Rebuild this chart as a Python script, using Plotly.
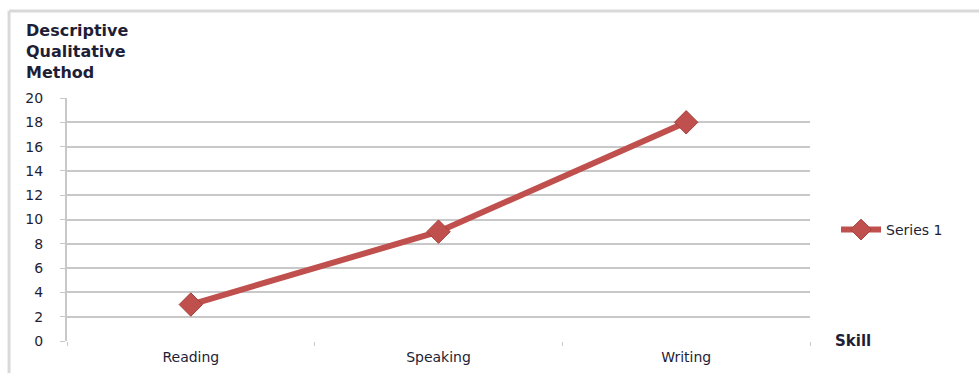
import plotly.graph_objects as go

skills = ["Reading", "Speaking", "Writing"]
series_1 = [3, 9, 18]
y_ticks = [0, 2, 4, 6, 8, 10, 12, 14, 16, 18, 20]
y_title_lines = ["Descriptive", "Qualitative", "Method"]

RED = "#C0504D"
GRID = "#C8C8C8"
TEXT = "#1E1E36"

fig = go.Figure()
fig.add_trace(go.Scatter(
    x=skills, y=series_1, name="Series 1", mode="lines+markers",
    line=dict(color=RED, width=6),
    marker=dict(symbol="diamond", size=18, color=RED,
                line=dict(color="#A33F3C", width=1)),
))

# y-axis title, one annotation per line (paper units: 243 px plot height)
title_notes = [
    dict(text="<b>" + line + "</b>", xref="paper", yref="paper",
         x=-0.058, y=1.279 - i * 0.0865, xanchor="left", yanchor="middle",
         showarrow=False, font=dict(size=16, color=TEXT, family="DejaVu Sans"))
    for i, line in enumerate(y_title_lines)
]

fig.update_layout(
    width=979, height=373,
    margin=dict(l=67, r=169, t=98, b=32),
    plot_bgcolor="white", paper_bgcolor="white",
    font=dict(family="DejaVu Sans", size=14, color=TEXT),
    showlegend=True,
    legend=dict(x=1.035, y=0.457, xanchor="left", yanchor="middle",
                font=dict(size=14, color=TEXT), bgcolor="rgba(0,0,0,0)",
                itemwidth=40),
    xaxis=dict(range=[-0.5, 2.5], tickson="boundaries", ticks="outside",
               ticklen=4, tickcolor=GRID, showgrid=False, showline=False,
               zeroline=False, tickfont=dict(size=14, color=TEXT),
               ticklabelstandoff=6, automargin=False),
    yaxis=dict(range=[0, 20], tickvals=y_ticks, showgrid=True, gridcolor=GRID,
               gridwidth=1.5, showline=True, linecolor=GRID, linewidth=2,
               ticks="outside", ticklen=5, tickcolor=GRID, zeroline=False,
               tickfont=dict(size=14, color=TEXT), ticklabelstandoff=14,
               automargin=False),
    annotations=title_notes + [
        dict(text="<b>Skill</b>", xref="paper", yref="paper", x=1.031, y=0.0,
             xanchor="left", yanchor="middle", showarrow=False,
             font=dict(size=15, color=TEXT, family="DejaVu Sans")),
    ],
    shapes=[
        dict(type="line", xref="paper", yref="paper", x0=-0.078, x1=-0.078,
             y0=-0.2, y1=1.358, line=dict(color="#D9D9D9", width=3)),
        dict(type="line", xref="paper", yref="paper", x0=-0.078, x1=1.3,
             y0=1.358, y1=1.358, line=dict(color="#D9D9D9", width=3)),
    ],
)

fig.write_html("out.html")
